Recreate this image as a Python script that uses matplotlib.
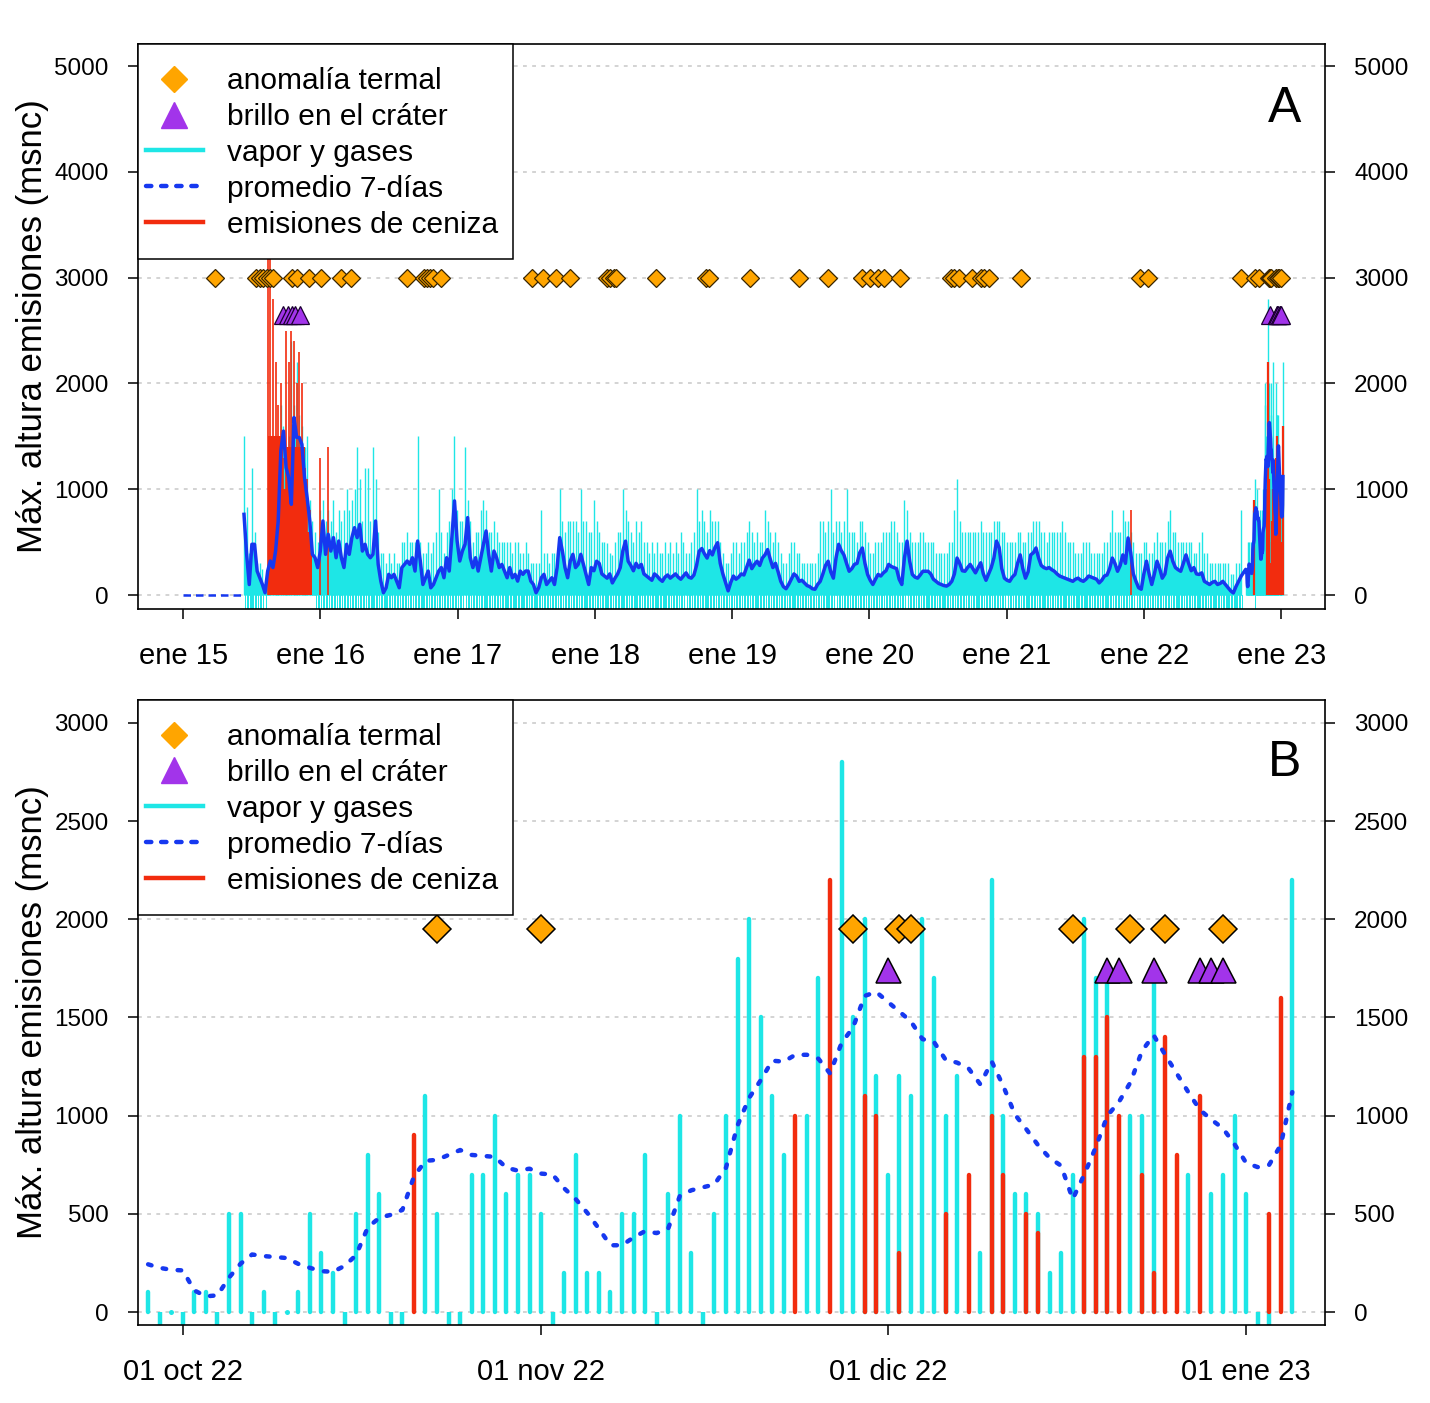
import numpy as np
import pandas as pd
import matplotlib
matplotlib.use('Agg')
import matplotlib.pyplot as plt
from matplotlib.lines import Line2D
from matplotlib.patches import Rectangle

plt.rcParams['font.family'] = ['Liberation Sans', 'DejaVu Sans']

CIAN = '#1ee6e6'
AZUL = '#1638f0'
ROJO = '#f22c0e'
NARANJA = '#ffa500'
MORADO = '#a234ea'
GRIS = '#c8c8c8'

# ---------------- panel B: datos diarios 28 sep 2022 - 05 ene 2023 ----------------
b_inicio = '2022-09-28'
# vapor y gases (m); None = sin observacion
b_vapor = [100, None, 0, None, 100, 100, None, 500, 500, None,
           100, None, 0, 100, 500, 300, 200, None, 500, 800,
           600, None, None, 0, 1100, 500, None, None, 700, 700,
           1000, 600, 700, 700, 500, None, 200, 800, 200, 200,
           100, 500, 500, 800, None, 600, 1000, 300, None, 500,
           1000, 1800, 2000, 1500, 1100, 800, 0, 1000, 1700, 0,
           2800, 1500, 2000, 1200, 700, 1200, 1100, 2000, 1700, 1000,
           1200, 0, 300, 2200, 1000, 600, 600, 500, 200, 300,
           700, 2000, 1700, 1700, 0, 1000, 1000, 1700, 0, 0,
           700, 0, 600, 700, 1000, 600, None, None, 0, 2200]
# emisiones de ceniza (m)
b_ceniza = [0, 0, 0, 0, 0, 0, 0, 0, 0, 0,
            0, 0, 0, 0, 0, 0, 0, 0, 0, 0,
            0, 0, 0, 900, 0, 0, 0, 0, 0, 0,
            0, 0, 0, 0, 0, 0, 0, 0, 0, 0,
            0, 0, 0, 0, 0, 0, 0, 0, 0, 0,
            0, 0, 0, 0, 0, 0, 1000, 0, 0, 2200,
            0, 0, 1100, 1000, 0, 300, 0, 0, 0, 500,
            0, 700, 0, 1000, 700, 0, 500, 400, 0, 0,
            0, 1300, 1300, 1500, 1000, 0, 700, 200, 1400, 800,
            0, 1100, 0, 0, 0, 0, 0, 500, 1600, 0]
# promedio 7 dias (m)
b_prom = [243, 225, 215, 212, 110, 80, 85, 175, 246, 293,
          285, 280, 275, 245, 225, 208, 205, 235, 290, 430,
          480, 495, 520, 690, 770, 775, 800, 825, 800, 795,
          790, 735, 720, 730, 705, 700, 630, 575, 505, 425,
          340, 340, 380, 412, 402, 425, 590, 620, 635, 650,
          735, 950, 1090, 1180, 1280, 1275, 1310, 1310, 1290, 1215,
          1370, 1450, 1610, 1630, 1580, 1530, 1480, 1390, 1375, 1285,
          1270, 1240, 1160, 1275, 1150, 1006, 930, 850, 785, 745,
          575, 700, 840, 1000, 1070, 1170, 1330, 1410, 1310, 1215,
          1120, 1030, 980, 935, 855, 760, 738, 750, 850, 1120]
b_termal = ['2022-10-23', '2022-11-01', '2022-11-28', '2022-12-02', '2022-12-03',
            '2022-12-17', '2022-12-22', '2022-12-25', '2022-12-30']
b_brillo = ['2022-12-01', '2022-12-20', '2022-12-21', '2022-12-24', '2022-12-28',
            '2022-12-29', '2022-12-30']

# ---------------- panel A: resumen semanal desde 12 jun 2015 ----------------
a_cero = ['2015-01-01', '2015-06-12']   # promedio nulo antes de las observaciones
a_sem_inicio = '2015-06-12'
# promedio 7 dias (m)
a_sem_prom = [763, 385, 100, 480, 480, 227, 164, 100, 22, 227,
              322, 260, 416, 700, 1363, 1550, 1205, 1110, 858, 1678,
              1490, 1490, 1425, 1110, 920, 700, 385, 353, 260, 416,
              700, 385, 575, 416, 543, 353, 511, 353, 260, 480,
              385, 543, 637, 543, 669, 416, 480, 385, 353, 385,
              700, 290, 132, 22, 69, 196, 164, 196, 132, 69,
              260, 290, 322, 290, 353, 227, 511, 322, 100, 164,
              227, 69, 100, 164, 227, 260, 164, 353, 227, 543,
              890, 511, 322, 416, 480, 732, 353, 260, 353, 227,
              353, 480, 606, 385, 227, 416, 353, 260, 290, 227,
              164, 260, 164, 196, 132, 227, 196, 227, 227, 132,
              100, 22, 69, 164, 196, 100, 132, 164, 100, 260,
              543, 416, 260, 164, 322, 385, 260, 290, 385, 290,
              196, 100, 260, 230, 320, 300, 200, 180, 160, 200,
              115, 160, 200, 260, 420, 510, 320, 280, 230, 300,
              260, 290, 200, 180, 160, 140, 200, 180, 150, 130,
              170, 190, 160, 180, 200, 170, 150, 180, 210, 170,
              160, 190, 280, 415, 440, 390, 350, 420, 380, 450,
              495, 300, 200, 120, 40, 120, 180, 150, 170, 200,
              190, 260, 330, 250, 290, 320, 280, 350, 380, 430,
              340, 260, 300, 220, 130, 80, 60, 100, 150, 200,
              180, 130, 140, 115, 90, 80, 60, 55, 100, 130,
              200, 280, 320, 220, 160, 350, 480, 420, 380, 300,
              225, 250, 290, 300, 400, 445, 300, 195, 140, 100,
              150, 195, 180, 210, 230, 290, 270, 260, 250, 150,
              100, 350, 510, 320, 195, 170, 160, 190, 225, 225,
              225, 200, 150, 130, 110, 100, 90, 85, 100, 130,
              200, 350, 300, 230, 225, 260, 290, 250, 210, 260,
              305, 200, 140, 200, 260, 350, 510, 450, 250, 160,
              140, 130, 170, 195, 300, 380, 250, 160, 220, 380,
              400, 445, 350, 280, 260, 250, 260, 240, 225, 200,
              180, 170, 160, 150, 140, 130, 150, 160, 140, 130,
              150, 180, 170, 160, 150, 115, 140, 180, 190, 250,
              350, 300, 225, 280, 380, 300, 540, 400, 200, 130,
              70, 55, 200, 320, 200, 100, 200, 320, 250, 160,
              200, 350, 415, 320, 260, 240, 225, 300, 380, 300,
              230, 260, 200, 195, 210, 130, 115, 100, 120, 130,
              100, 110, 130, 100, 70, 40, 20, 80, 130, 180]
# vapor y gases, maximo semanal (m)
a_sem_max = [1500, 830, 400, 1200, 600, 300, 300, 250, 100, 500,
             500, 600, 800, 1000, 1800, 1600, 1400, 1500, 2400, 1800,
             2200, 1700, 1600, 1400, 1500, 900, 700, 600, 500, 800,
             900, 700, 800, 700, 900, 600, 800, 700, 800, 1000,
             800, 900, 1000, 1400, 1100, 700, 1200, 1200, 700, 1400,
             1100, 600, 400, 400, 300, 400, 300, 400, 300, 300,
             500, 500, 600, 500, 500, 500, 1500, 500, 400, 400,
             500, 400, 500, 600, 1000, 600, 400, 600, 700, 1000,
             1500, 800, 700, 700, 1400, 900, 700, 500, 600, 600,
             800, 900, 800, 600, 600, 700, 600, 500, 500, 500,
             500, 500, 400, 500, 500, 400, 400, 500, 400, 300,
             300, 300, 300, 800, 400, 400, 300, 400, 400, 400,
             1000, 700, 600, 700, 700, 700, 700, 600, 1000, 700,
             700, 600, 600, 900, 700, 600, 500, 500, 490, 400,
             380, 500, 600, 600, 1000, 800, 700, 600, 500, 700,
             600, 700, 500, 500, 400, 500, 400, 500, 400, 400,
             500, 400, 500, 400, 500, 400, 600, 500, 400, 400,
             500, 600, 1000, 700, 800, 700, 600, 800, 700, 700,
             700, 500, 400, 300, 300, 400, 500, 500, 400, 500,
             500, 600, 700, 600, 500, 600, 500, 500, 800, 700,
             600, 500, 600, 500, 400, 300, 300, 400, 500, 500,
             400, 400, 300, 300, 300, 300, 300, 300, 400, 700,
             700, 600, 700, 1000, 600, 700, 700, 600, 700, 1000,
             600, 600, 600, 500, 700, 700, 600, 500, 400, 400,
             500, 500, 500, 600, 600, 600, 700, 700, 600, 500,
             500, 900, 800, 600, 500, 500, 500, 600, 600, 500,
             500, 500, 500, 400, 400, 400, 400, 400, 500, 500,
             800, 1100, 700, 600, 600, 600, 600, 600, 600, 600,
             700, 600, 600, 600, 600, 700, 700, 700, 600, 600,
             500, 500, 500, 500, 600, 600, 500, 500, 600, 600,
             700, 700, 700, 600, 600, 500, 600, 600, 600, 600,
             600, 700, 600, 500, 500, 500, 400, 400, 400, 500,
             500, 500, 400, 400, 400, 400, 400, 500, 500, 600,
             800, 600, 600, 600, 800, 700, 700, 600, 500, 400,
             400, 400, 500, 500, 400, 400, 500, 600, 500, 500,
             500, 700, 800, 600, 600, 500, 500, 500, 500, 500,
             500, 400, 400, 500, 600, 400, 400, 300, 300, 300,
             300, 300, 300, 300, 300, 200, 200, 300, 300, 800]
# dias sin observacion por semana
a_sem_sd = [4, 4, 5, 4, 4, 5, 4, 4, 3, 0,
            0, 0, 1, 0, 0, 0, 0, 0, 0, 0,
            0, 0, 0, 0, 0, 0, 0, 1, 3, 4,
            5, 4, 4, 5, 4, 4, 5, 4, 5, 4,
            4, 5, 4, 4, 5, 5, 4, 4, 5, 4,
            4, 5, 5, 4, 5, 5, 4, 5, 4, 5,
            4, 4, 5, 4, 4, 5, 4, 5, 5, 4,
            5, 5, 4, 4, 5, 4, 5, 4, 4, 5,
            4, 4, 5, 4, 4, 5, 4, 5, 4, 5,
            4, 4, 5, 5, 4, 5, 4, 5, 5, 4,
            5, 4, 5, 5, 4, 5, 5, 4, 5, 5,
            5, 5, 4, 4, 5, 5, 4, 5, 5, 4,
            4, 4, 5, 5, 4, 4, 5, 4, 4, 5,
            5, 5, 5, 4, 4, 5, 4, 5, 5, 4,
            4, 5, 4, 5, 4, 4, 5, 4, 5, 5,
            4, 4, 5, 4, 5, 5, 4, 5, 4, 5,
            5, 4, 4, 5, 4, 5, 5, 4, 4, 5,
            4, 5, 5, 4, 4, 4, 5, 4, 5, 4,
            4, 5, 4, 4, 5, 5, 4, 5, 5, 4,
            5, 4, 5, 5, 4, 5, 4, 5, 4, 4,
            5, 5, 4, 5, 4, 5, 4, 5, 5, 4,
            5, 4, 5, 5, 4, 5, 5, 4, 5, 5,
            5, 4, 5, 5, 4, 4, 5, 4, 4, 5,
            4, 4, 5, 4, 5, 5, 4, 5, 4, 5,
            4, 4, 5, 4, 5, 4, 4, 5, 5, 4,
            5, 4, 4, 5, 5, 4, 5, 5, 4, 5,
            5, 5, 5, 4, 5, 5, 4, 5, 4, 4,
            4, 5, 4, 5, 4, 4, 5, 4, 4, 5,
            5, 4, 5, 4, 4, 5, 4, 4, 5, 4,
            4, 5, 4, 5, 5, 4, 5, 4, 5, 5,
            5, 4, 5, 5, 4, 5, 5, 5, 4, 5,
            5, 5, 4, 5, 5, 4, 5, 5, 4, 5,
            5, 4, 5, 5, 4, 5, 4, 5, 5, 4,
            4, 5, 4, 4, 5, 4, 4, 5, 4, 4,
            5, 4, 5, 4, 4, 5, 4, 5, 5, 4,
            4, 5, 5, 4, 5, 5, 5, 4, 5, 5,
            5, 5, 4, 5, 5, 5, 4, 5, 5, 5,
            5, 5, 5, 5, 5, 5, 6, 5, 5, 5]

# emisiones de ceniza (maximo y nivel tipico por semana)
a_cen_fechas = ['2015-08-14', '2015-08-21', '2015-08-28', '2015-09-04', '2015-09-11', '2015-09-18',
                '2015-09-25', '2015-10-02', '2015-10-09', '2015-10-16', '2015-10-23', '2015-10-30',
                '2015-11-06', '2015-11-13', '2015-11-20', '2015-11-27', '2015-12-04', '2016-01-01',
                '2016-01-22', '2021-11-27']
a_cen_max = [3300, 3300, 2800, 2200, 1800, 2000, 1300, 2500, 2200, 2500,
             2400, 2000, 2300, 2000, 1200, 1100, 800, 1300, 1400, 800]
a_cen_tip = [1500, 1500, 1500, 1500, 1500, 1500, 1000, 1400, 1400, 1400,
             1400, 1400, 1400, 1400, 900, 600, 400, 0, 0, 0]

a_termal = ['2015-03-26', '2015-07-15', '2015-07-24', '2015-08-02', '2015-08-11', '2015-08-21',
            '2015-08-29', '2015-10-17', '2015-10-30', '2015-12-02', '2016-01-02', '2016-02-26',
            '2016-03-24', '2016-08-18', '2016-10-02', '2016-10-11', '2016-10-20', '2016-10-28',
            '2016-11-18', '2017-07-17', '2017-08-15', '2017-09-20', '2017-10-27', '2018-02-02',
            '2018-02-11', '2018-02-20', '2018-02-27', '2018-06-11', '2018-10-22', '2018-10-31',
            '2019-02-17', '2019-06-27', '2019-09-14', '2019-12-12', '2020-01-03', '2020-01-25',
            '2020-02-08', '2020-03-23', '2020-08-04', '2020-08-13', '2020-08-26', '2020-10-01',
            '2020-10-23', '2020-11-01', '2020-11-14', '2021-02-08', '2021-12-20', '2022-01-11',
            '2022-09-16']
a_brillo = ['2015-09-24', '2015-10-07', '2015-10-18', '2015-10-25', '2015-11-07']

anios = [2015, 2016, 2017, 2018, 2019, 2020, 2021, 2022, 2023]
b_ticks = ['2022-10-01', '2022-11-01', '2022-12-01', '2023-01-01']
b_ticklab = ['01 oct 22', '01 nov 22', '01 dic 22', '01 ene 23']

# ---------------- preparar ----------------
b_fechas = pd.date_range(b_inicio, periods=len(b_vapor), freq='D')
bv = np.array([np.nan if v is None else v for v in b_vapor], dtype=float)
bc = np.array(b_ceniza, dtype=float)
bp = np.array(b_prom, dtype=float)
b_na = np.isnan(bv)

a_f = pd.date_range(a_sem_inicio, periods=len(a_sem_prom), freq='7D')
a_p = np.array(a_sem_prom, dtype=float)
a_m = np.array(a_sem_max, dtype=float)
a_sd = np.array(a_sem_sd, dtype=float)

fig = plt.figure(figsize=(14.30, 14.03), dpi=100)
axA = fig.add_axes([0.0965, 0.5659, 0.8301, 0.4027])
axB = fig.add_axes([0.0965, 0.0556, 0.8301, 0.4455])


def estilo(ax, ymin, ymax, paso):
    ax.set_ylim(ymin, ymax)
    yt = np.arange(0, ymax, paso)
    ax.set_yticks(yt)
    ax.set_yticklabels([str(int(t)) for t in yt])
    for t in yt:
        ax.axhline(t, color=GRIS, lw=1.1, ls=(0, (2.5, 3.5)), zorder=0)
    ax.tick_params(axis='y', which='both', direction='out', length=7, width=1.1,
                   labelsize=17.5, right=True, labelright=True, pad=14)
    ax.tick_params(axis='x', direction='out', length=7, width=1.1, labelsize=21, pad=17)
    for s in ax.spines.values():
        s.set_linewidth(1.2)
    ax.set_ylabel('Máx. altura emisiones (msnc)', fontsize=25, labelpad=4)


def leyenda(ax, y_anc, y_caja):
    ax.add_patch(Rectangle((0, y_caja), 0.3159, 1 - y_caja, transform=ax.transAxes,
                           facecolor='white', edgecolor='black', lw=1.1, zorder=9,
                           clip_on=False))
    h = [Line2D([], [], ls='none', marker='D', ms=13.5, mfc=NARANJA, mec=NARANJA),
         Line2D([], [], ls='none', marker='^', ms=19, mfc=MORADO, mec=MORADO),
         Line2D([], [], color=CIAN, lw=3.2),
         Line2D([], [], color=AZUL, lw=3.2, ls=(0, (1.2, 2.2)), dash_capstyle='round'),
         Line2D([], [], color=ROJO, lw=3.2)]
    lab = ['anomalía termal', 'brillo en el cráter', 'vapor y gases', 'promedio 7-días',
           'emisiones de ceniza']
    lg = ax.legend(h, lab, loc='upper left', bbox_to_anchor=(0.0067, y_anc), borderaxespad=0,
                   fontsize=21.5, frameon=False, handlelength=1.9, handletextpad=0.8,
                   labelspacing=0.265, borderpad=0)
    lg.set_zorder(10)


# ---------------- panel A ----------------
ax = axA
ax.plot(pd.to_datetime(a_cero), [0, 0], color=AZUL, lw=1.8, ls=(0, (3, 2)), zorder=4)
ax.bar(a_f + pd.Timedelta(hours=84), -500, width=a_sd, color=CIAN, lw=0, zorder=1)
ax.bar(b_fechas[b_na], -500, width=0.6, color=CIAN, lw=0, zorder=1)
ax.fill_between(a_f, 0, a_p, color=CIAN, lw=0, zorder=1)
ax.vlines(a_f, 0, a_m, color=CIAN, lw=1.0, zorder=1)
ax.vlines(b_fechas[~b_na], 0, bv[~b_na], color=CIAN, lw=1.0, zorder=1)
ax.fill_between(b_fechas, 0, bp, color=CIAN, lw=0, zorder=1)
cf = pd.to_datetime(a_cen_fechas)
ax.bar(cf, a_cen_tip, width=7, align='edge', color=ROJO, lw=0, zorder=2)
ax.vlines(cf, 0, a_cen_max, color=ROJO, lw=1.2, zorder=2)
ax.vlines(b_fechas[bc > 0], 0, bc[bc > 0], color=ROJO, lw=1.6, zorder=2)
ax.plot(a_f.append(b_fechas), np.concatenate([a_p, bp]), color=AZUL, lw=2.5, zorder=3)
ax.plot(pd.to_datetime(a_termal + b_termal), [3000] * (len(a_termal) + len(b_termal)),
        ls='none', marker='D', ms=9, mfc=NARANJA, mec='#3a2600', mew=0.9, zorder=5)
ax.plot(pd.to_datetime(a_brillo + b_brillo), [2650] * (len(a_brillo) + len(b_brillo)),
        ls='none', marker='^', ms=13, mfc=MORADO, mec='#1a0030', mew=0.9, zorder=5)
estilo(ax, -132, 5208, 1000)
ax.set_xlim(pd.Timestamp('2014-09-03'), pd.Timestamp('2023-04-27'))
ax.set_xticks([pd.Timestamp(f'{a}-01-01') for a in anios])
ax.set_xticklabels([f'ene {a % 100:02d}' for a in anios])
ax.text(0.966, 0.885, 'A', transform=ax.transAxes, fontsize=36, ha='center', va='center')
leyenda(ax, 0.9593, 0.6195)

# ---------------- panel B ----------------
ax = axB
ax.vlines(b_fechas[b_na], 0, -200, color=CIAN, lw=3.2, capstyle='butt', zorder=1)
pos = ~b_na & (bv > 0)
ax.vlines(b_fechas[pos], 0, bv[pos], color=CIAN, lw=3.2, capstyle='round', zorder=1)
cero = ~b_na & (bv == 0) & (bc == 0)
ax.plot(b_fechas[cero], bv[cero], ls='none', marker='o', ms=3.6, color=CIAN, mew=0, zorder=1)
ax.vlines(b_fechas[bc > 0], 0, bc[bc > 0], color=ROJO, lw=3.2, capstyle='round', zorder=2)
ax.plot(b_fechas, bp, color=AZUL, lw=3.2, ls=(0, (0.8, 2.6)), dash_capstyle='round', zorder=3)
ax.plot(pd.to_datetime(b_termal), [1950] * len(b_termal), ls='none', marker='D', ms=14.5,
        mfc=NARANJA, mec='black', mew=1.1, zorder=5)
ax.plot(pd.to_datetime(b_brillo), [1740] * len(b_brillo), ls='none', marker='^', ms=18,
        mfc=MORADO, mec='black', mew=1.1, zorder=5)
estilo(ax, -66, 3117, 500)
ax.set_xlim(pd.Timestamp('2022-09-27 03:00'), pd.Timestamp('2023-01-07 20:00'))
ax.set_xticks(pd.to_datetime(b_ticks))
ax.set_xticklabels(b_ticklab)
ax.text(0.966, 0.899, 'B', transform=ax.transAxes, fontsize=36, ha='center', va='center')
leyenda(ax, 0.9632, 0.656)

fig.savefig('out.png', dpi=100)
